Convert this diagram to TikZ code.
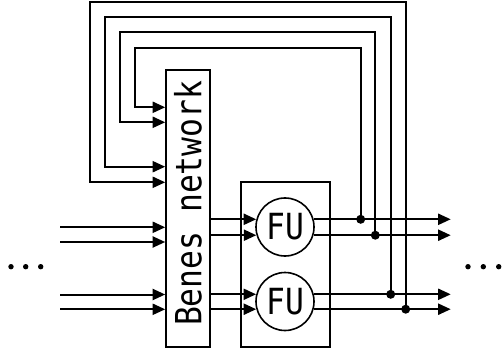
\documentclass[tikz,border=0pt]{standalone}
\usepackage{fontspec}
\newfontfamily\dmono[FakeStretch=0.87]{DejaVu Sans Mono}
\usetikzlibrary{arrows.meta}
\begin{document}
\begin{tikzpicture}[x=1pt,y=-1pt,
  wire/.style={line width=2pt},
  arr/.style={wire,-{Triangle[length=12.5pt,width=11pt]}},
  box/.style={draw,line width=1.6pt,inner sep=0pt},
  fu/.style={draw,circle,line width=1.6pt,minimum size=58pt,inner sep=0pt,font=\dmono\fontsize{36}{36}\selectfont},
  jdot/.style={circle,fill,minimum size=9pt,inner sep=0pt},
  sdot/.style={circle,fill,minimum size=5.4pt,inner sep=0pt}]
\useasboundingbox (0,0) rectangle (502,352);
% boxes
\node[box,minimum width=44pt,minimum height=277pt] (benes) at (188,208.5) {};
\node[rotate=90,anchor=base,inner sep=0pt,font=\dmono\fontsize{36}{36}\selectfont] (btext) at (201.3,203.3) {Benes network};
\node[box,minimum width=89pt,minimum height=165pt] (cont) at (285.5,264.5) {};
\node[fu] (fu1) at (285,227) {FU};
\node[fu] (fu2) at (285,301.5) {FU};
% inputs
\coordinate (in1) at (60,227.3);
\coordinate (in2) at (60,242);
\coordinate (in3) at (60,294.5);
\coordinate (in4) at (60,309.3);
\foreach \i in {1,2,3,4} \draw[arr] (in\i) -- (in\i -| benes.west);
% benes to FU
\draw[arr] (benes.east |- fu1.165) -- (fu1.165);
\draw[arr] (benes.east |- fu1.196) -- (fu1.196);
\draw[arr] (benes.east |- fu2.166) -- (fu2.166);
\draw[arr] (benes.east |- fu2.195) -- (fu2.195);
% outputs
\coordinate (oend) at (450.7,0);
\draw[arr] (fu1.15) -- (fu1.15 -| oend);
\draw[arr] (fu1.-16) -- (fu1.-16 -| oend);
\draw[arr] (fu2.14) -- (fu2.14 -| oend);
\draw[arr] (fu2.-15) -- (fu2.-15 -| oend);
% feedback loops
\coordinate (r1) at (360.7,47.7);  \coordinate (l1) at (135.3,107.3);
\coordinate (r2) at (375.3,32.3);  \coordinate (l2) at (120.3,122.3);
\coordinate (r3) at (390.7,17);    \coordinate (l3) at (105.3,166.7);
\coordinate (r4) at (405.7,2.3);   \coordinate (l4) at (90.3,182.3);
\node[jdot] (j1) at (r1 |- fu1.15) {};
\node[jdot] (j2) at (r2 |- fu1.-16) {};
\node[jdot] (j3) at (r3 |- fu2.14) {};
\node[jdot] (j4) at (r4 |- fu2.-15) {};
\foreach \i in {1,2,3,4} \draw[arr] (j\i.center) -- (r\i) -| (l\i) -- (l\i -| benes.west);
% ellipses
\node[sdot] (dl1) at (11,266.7) {};
\node[sdot] (dl2) at (25.7,266.7) {};
\node[sdot] (dl3) at (40.7,266.7) {};
\node[sdot] (dr1) at (468,266.7) {};
\node[sdot] (dr2) at (483.3,266.7) {};
\node[sdot] (dr3) at (498.7,266.7) {};
\end{tikzpicture}
\end{document}
